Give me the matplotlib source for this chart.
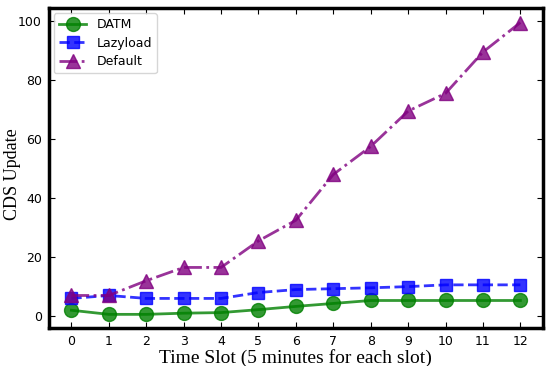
import numpy as np
import matplotlib.pyplot as plt

slots = list(range(13))
datm = [2.0, 0.6, 0.6, 1.0, 1.2, 2.2, 3.3, 4.3, 5.3, 5.3, 5.3, 5.3, 5.3]
lazyload = [6.0, 7.0, 6.0, 6.0, 6.0, 8.0, 9.0, 9.3, 9.6, 10.0, 10.6, 10.6, 10.6]
default = [7.0, 7.0, 12.0, 16.5, 16.5, 25.5, 32.5, 48.0, 57.5, 69.5, 75.5, 89.5, 99.5]

fig = plt.figure(figsize=(5.5, 3.66), dpi=100)
ax = fig.add_axes([0.089, 0.104, 0.898, 0.874])

ax.plot(slots, datm, '-o', color='green', lw=2, ms=10, alpha=0.8, label='DATM')
ax.plot(slots, lazyload, '--s', color='blue', lw=2, ms=9, alpha=0.8, label='Lazyload')
ax.plot(slots, default, '-.^', color='purple', lw=2, ms=10, alpha=0.8, label='Default')

ax.set_xlim(-0.6, 12.6)
ax.set_ylim(-4, 104.4)
ax.set_xticks(slots)
ax.set_yticks([0, 20, 40, 60, 80, 100])
ax.tick_params(direction='in', top=True, right=True, labelsize=9, length=4, pad=5)
for s in ax.spines.values():
    s.set_linewidth(2.5)

ax.set_xlabel('Time Slot (5 minutes for each slot)', family='Liberation Serif', fontsize=14, labelpad=1)
ax.set_ylabel('CDS Update', family='Liberation Serif', fontsize=13)
ax.yaxis.set_label_coords(-0.057, 0.48)

ax.legend(loc='upper left', fontsize=9, fancybox=True, handlelength=2.2,
          borderaxespad=0.4, labelspacing=0.45)

fig.savefig('out.png', dpi=100)
